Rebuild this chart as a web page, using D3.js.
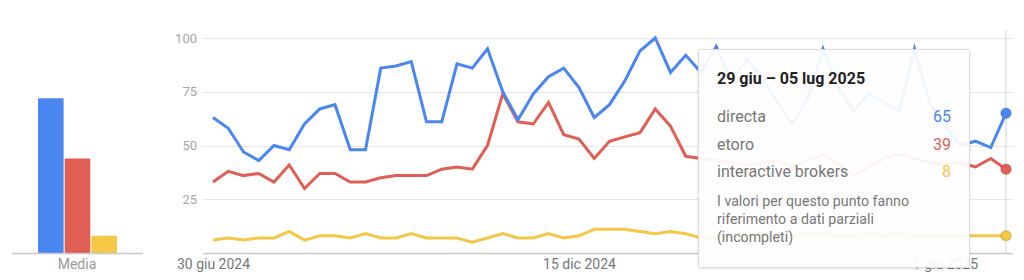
<!DOCTYPE html>
<html>
<head>
<meta charset="utf-8">
<script src="https://cdnjs.cloudflare.com/ajax/libs/d3/7.8.5/d3.min.js"></script>
<style>
  body { margin: 0; background: #fff; font-family: Roboto, "Noto Sans", Arial, sans-serif; }
  svg { display: block; }
</style>
</head>
<body>
<div id="chart"></div>
<script>
// series names, colours and weekly values (30 giu 2024 -> 29 giu 2025)
var seriesNames = ["directa", "etoro", "interactive brokers"];
var seriesColors = ["#4a86f0", "#df5f55", "#f5c747"];
var averages = [72, 44, 8];

var directa = [63, 58, 47, 43, 50, 48, 60, 67, 69, 48, 48, 86, 87, 89, 61, 61, 88, 86, 95, 75,
  62, 74, 82, 86, 77, 63, 69, 80, 94, 100, 84, 92, 84, 96, 80, 90, 82, 70, 60, 72,
  95, 77, 66, 74, 70, 66, 95, 70, 59, 50, 52, 49, 65];
var etoro = [33, 38, 36, 37, 33, 41, 30, 37, 37, 33, 33, 35, 36, 36, 36, 39, 40, 39, 50, 74,
  61, 60, 70, 55, 53, 44, 52, 54, 56, 67, 59, 45, 44, 43, 42, 41, 42, 43, 40, 43,
  46, 41, 36, 40, 44, 46, 44, 42, 41, 42, 40, 44, 39];
var interactive = [6, 7, 6, 7, 7, 10, 6, 8, 8, 7, 9, 7, 7, 9, 7, 7, 7, 5, 7, 9,
  7, 7, 9, 7, 8, 11, 11, 11, 10, 9, 10, 9, 7, 7, 8, 8, 9, 8, 8, 9,
  9, 8, 8, 9, 8, 9, 8, 8, 8, 8, 8, 8, 8];

var yTicks = [25, 50, 75, 100];
var xTickDates = [new Date(2024, 5, 30), new Date(2024, 11, 15), new Date(2025, 5, 1)];
var xTickLabels = ["30 giu 2024", "15 dic 2024", "1 giu 2025"];

var tooltipTitle = "29 giu \u2013 05 lug 2025";
var tooltipNote = ["I valori per questo punto fanno", "riferimento a dati parziali", "(incompleti)"];

var startDate = new Date(2024, 5, 30);
var weeks = directa.map(function(d, i) { return d3.timeDay.offset(startDate, i * 7); });
var allSeries = [directa, etoro, interactive];

var svg = d3.select("#chart")
  .append("svg")
  .attr("width", 1024)
  .attr("height", 280);

var y = d3.scaleLinear().domain([0, 100]).range([253, 38]);

// ---- left panel: averages ----
var xb = d3.scaleBand().domain(seriesNames).range([38, 117]).paddingInner(0.04);

svg.selectAll(".avg")
  .data(averages)
  .enter().append("rect")
  .attr("class", "avg")
  .attr("x", function(d, i) { return xb(seriesNames[i]); })
  .attr("y", function(d) { return y(d); })
  .attr("width", xb.bandwidth())
  .attr("height", function(d) { return y(0) - y(d); })
  .attr("rx", 1)
  .style("fill", function(d, i) { return seriesColors[i]; });

svg.append("line")
  .attr("x1", 12).attr("x2", 143)
  .attr("y1", 253.5).attr("y2", 253.5)
  .style("stroke", "#c8c8c8").style("stroke-width", 1.5);

svg.append("text")
  .attr("x", 77).attr("y", 269)
  .attr("text-anchor", "middle")
  .style("font-size", "14px").style("fill", "#9a9a9a")
  .text("Media");

// ---- main chart ----
var x = d3.scaleTime().domain([weeks[0], weeks[weeks.length - 1]]).range([213, 1006]);

var gridG = svg.append("g");
gridG.selectAll(".grid")
  .data(yTicks)
  .enter().append("line")
  .attr("x1", 203).attr("x2", 1013)
  .attr("y1", function(d) { return Math.round(y(d)) + 0.5; })
  .attr("y2", function(d) { return Math.round(y(d)) + 0.5; })
  .style("stroke", "#e6e6e6");

gridG.selectAll(".ylab")
  .data(yTicks)
  .enter().append("text")
  .attr("x", 197)
  .attr("y", function(d) { return y(d); })
  .attr("dy", "0.36em")
  .attr("text-anchor", "end")
  .style("font-size", "13px").style("fill", "#a6a6a6")
  .text(function(d) { return d; });

svg.append("line")
  .attr("x1", 203).attr("x2", 1013)
  .attr("y1", 253.5).attr("y2", 253.5)
  .style("stroke", "#c8c8c8").style("stroke-width", 1.5);

// x axis labels only
var xAxis = d3.axisBottom(x)
  .tickValues(xTickDates)
  .tickSize(0)
  .tickPadding(0)
  .tickFormat(function(d, i) { return xTickLabels[i]; });

var xg = svg.append("g")
  .attr("transform", "translate(0,256)")
  .call(xAxis);
xg.select(".domain").remove();
xg.selectAll("text")
  .attr("dy", "0.95em")
  .style("font-family", "Roboto, sans-serif")
  .style("font-size", "14px")
  .style("fill", "#777");

// hover line at the last week
svg.append("line")
  .attr("x1", x(weeks[52])).attr("x2", x(weeks[52]))
  .attr("y1", 30).attr("y2", 253)
  .style("stroke", "#d4d4d4");

var line = d3.line()
  .x(function(d, i) { return x(weeks[i]); })
  .y(function(d) { return y(d); });

// draw yellow first so blue ends up on top
for (var s = allSeries.length - 1; s >= 0; s--) {
  svg.append("path")
    .datum(allSeries[s])
    .attr("d", line)
    .style("fill", "none")
    .style("stroke", seriesColors[s])
    .style("stroke-width", 3);
}

// ---- tooltip ----
var tip = svg.append("g").attr("transform", "translate(698,49)");

var defs = svg.append("defs");
var filter = defs.append("filter").attr("id", "shadow").attr("x", "-10%").attr("y", "-10%")
  .attr("width", "120%").attr("height", "120%");
filter.append("feDropShadow").attr("dx", 0).attr("dy", 1).attr("stdDeviation", 1.5)
  .attr("flood-color", "#000").attr("flood-opacity", 0.12);

tip.append("rect")
  .attr("x", 0.5).attr("y", 0.5)
  .attr("width", 271).attr("height", 218)
  .attr("rx", 2)
  .attr("filter", "url(#shadow)")
  .style("fill", "#fff").style("fill-opacity", 0.92)
  .style("stroke", "#dcdcdc");

tip.append("text")
  .attr("x", 19).attr("y", 35)
  .style("font-size", "16px").style("font-weight", "bold").style("fill", "#222")
  .text(tooltipTitle);

var lastVals = allSeries.map(function(a) { return a[a.length - 1]; });

tip.selectAll(".tname")
  .data(seriesNames)
  .enter().append("text")
  .attr("x", 19)
  .attr("y", function(d, i) { return 73 + i * 27.5; })
  .style("font-size", "16px").style("fill", "#777")
  .text(function(d) { return d; });

tip.selectAll(".tval")
  .data(lastVals)
  .enter().append("text")
  .attr("x", 253)
  .attr("y", function(d, i) { return 73 + i * 27.5; })
  .attr("text-anchor", "end")
  .style("font-size", "16px")
  .style("fill", function(d, i) { return seriesColors[i]; })
  .text(function(d) { return d; });

tip.selectAll(".tnote")
  .data(tooltipNote)
  .enter().append("text")
  .attr("x", 19)
  .attr("y", function(d, i) { return 157 + i * 18; })
  .style("font-size", "14.2px").style("fill", "#777")
  .text(function(d) { return d; });

// hover dots on the last point
svg.selectAll(".dot")
  .data(lastVals)
  .enter().append("circle")
  .attr("cx", x(weeks[52]))
  .attr("cy", function(d) { return y(d); })
  .attr("r", 5)
  .style("fill", function(d, i) { return seriesColors[i]; })
  .style("stroke", function(d, i) { return d3.color(seriesColors[i]).darker(0.6); })
  .style("stroke-opacity", 0.5)
  .style("stroke-width", 1.5);
</script>
</body>
</html>
